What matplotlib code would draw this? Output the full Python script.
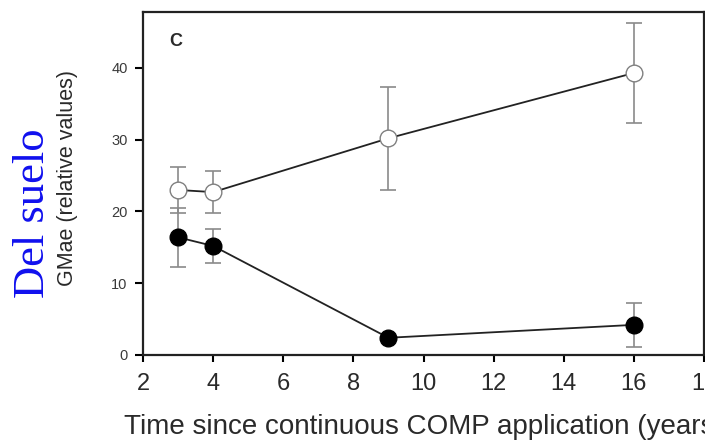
import matplotlib
matplotlib.use("Agg")
import matplotlib.pyplot as plt

# GMae over time since continuous COMP application
years = [3, 4, 9, 16]
open_mean = [23.0, 22.7, 30.2, 39.3]
open_err = [3.2, 2.9, 7.2, 7.0]
filled_mean = [16.4, 15.2, 2.4, 4.2]
filled_err = [4.1, 2.4, 0.0, 3.1]

xticks = [2, 4, 6, 8, 10, 12, 14, 16, 18]
yticks = [0, 10, 20, 30, 40]

plt.rcParams['font.family'] = ['Liberation Sans', 'DejaVu Sans']

fig = plt.figure(figsize=(7.05, 4.46), dpi=100)
ax = fig.add_axes([143 / 705, 1 - 355 / 446, 561 / 705, 343 / 446])

err_kw = dict(ecolor='#8a8a8a', elinewidth=1.2, capsize=5.5, capthick=1.2)
ax.errorbar(years, filled_mean, yerr=filled_err, fmt='none', zorder=2, **err_kw)
ax.errorbar(years, open_mean, yerr=open_err, fmt='none', zorder=2, **err_kw)
ax.plot(years, open_mean, color='#222222', lw=1.3, marker='o', ms=12,
        mfc='white', mec='#808080', mew=1.0, zorder=3)
ax.plot(years, filled_mean, color='#222222', lw=1.3, marker='o', ms=12,
        mfc='black', mec='black', zorder=4)

ax.set_xlim(2, 18)
ax.set_ylim(0, 47.8)
ax.set_xticks(xticks)
ax.set_yticks(yticks)
ax.tick_params(axis='x', direction='out', length=5, width=1.5, labelsize=17,
               labelcolor='#2a2a2a', pad=8)
ax.tick_params(axis='y', direction='out', length=6, width=1.5, labelsize=10.5,
               labelcolor='#3a3a3a', pad=5)
for s in ax.spines.values():
    s.set_linewidth(1.6)
    s.set_color('#222222')

ax.text(0.059, 0.915, 'C', transform=ax.transAxes, fontsize=13,
        fontweight='bold', color='#2a2a2a', ha='center', va='center')

ax.set_xlabel('Time since continuous COMP application (years)', fontsize=20,
              color='#2a2a2a', labelpad=14)
fig.text(68 / 705, 1 - 178 / 446, 'GMae (relative values)', rotation=90,
         fontsize=15.5, color='#2a2a2a', ha='center', va='center')
fig.text(33 / 705, 1 - 213 / 446, 'Del suelo', rotation=90, fontsize=32,
         family=['Liberation Serif', 'DejaVu Serif'], color='#1010ee',
         ha='center', va='center')

fig.savefig('out.png', dpi=100)
